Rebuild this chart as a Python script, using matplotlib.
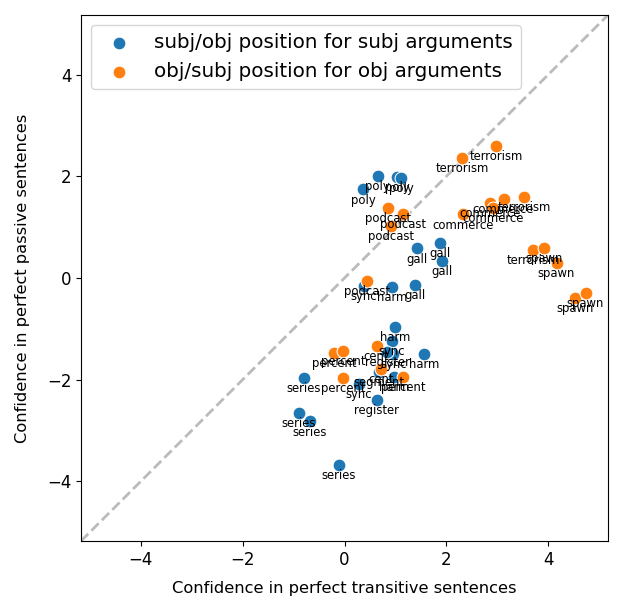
import matplotlib
matplotlib.use("Agg")
import matplotlib.pyplot as plt
import numpy as np

# subj arguments (blue)
subj_words = ["poly", "poly", "poly", "poly",
              "gall", "gall", "gall", "gall",
              "harm", "harm", "harm", "harm",
              "sync", "sync", "sync", "sync",
              "series", "series", "series", "series",
              "register", "register", "segment"]
subj_x = [0.65, 1.03, 1.11, 0.37,
          1.87, 1.42, 1.92, 1.39,
          0.94, 0.99, 1.56, 0.97,
          0.38, 0.93, 0.28, 0.96,
          -0.80, -0.90, -0.68, -0.11,
          0.63, 0.84, 0.67]
subj_y = [2.00, 1.98, 1.97, 1.74,
          0.69, 0.58, 0.33, -0.14,
          -0.18, -0.96, -1.50, -1.95,
          -0.16, -1.24, -2.08, -1.50,
          -1.97, -2.66, -2.82, -3.67,
          -2.40, -1.45, -1.85]

# obj arguments (orange)
obj_words = ["terrorism", "terrorism", "terrorism", "terrorism",
             "commerce", "commerce", "commerce", "commerce",
             "podcast", "podcast", "podcast", "podcast",
             "spawn", "spawn", "spawn", "spawn",
             "percent", "percent", "percent", "percent",
             "cent", "cent"]
obj_x = [2.98, 2.31, 3.53, 3.70,
         2.33, 2.85, 3.12, 2.92,
         0.85, 1.15, 0.92, 0.44,
         3.92, 4.16, 4.53, 4.73,
         -0.21, -0.03, -0.03, 1.15,
         0.63, 0.71]
obj_y = [2.59, 2.36, 1.59, 0.56,
         1.25, 1.48, 1.56, 1.38,
         1.37, 1.26, 1.02, -0.06,
         0.59, 0.30, -0.39, -0.29,
         -1.48, -1.43, -1.97, -1.95,
         -1.33, -1.79]

fig = plt.figure(figsize=(6.23, 6.13), dpi=100)
ax = fig.add_axes([81/623, 1 - 541/613, 527/623, 526/613])

lim = 5.17
ax.plot([-lim, lim], [-lim, lim], "--", color="#bbbbbb", lw=2, zorder=1)

ax.scatter(subj_x, subj_y, s=85, color="#1f77b4", edgecolor="white",
           linewidth=0.75, zorder=2, label="subj/obj position for subj arguments")
ax.scatter(obj_x, obj_y, s=85, color="#ff7f0e", edgecolor="white",
           linewidth=0.75, zorder=3, label="obj/subj position for obj arguments")

for w, x, y in zip(subj_words, subj_x, subj_y):
    ax.annotate(w, (x, y), xytext=(0, -3), textcoords="offset points",
                ha="center", va="top", fontsize=8.4, zorder=4)
for w, x, y in zip(obj_words, obj_x, obj_y):
    ax.annotate(w, (x, y), xytext=(0, -3), textcoords="offset points",
                ha="center", va="top", fontsize=8.4, zorder=4)

ax.set_xlim(-lim, lim)
ax.set_ylim(-lim, lim)
ax.set_xticks([-4, -2, 0, 2, 4])
ax.set_yticks([-4, -2, 0, 2, 4])
ax.tick_params(labelsize=12)
ax.set_xlabel("Confidence in perfect transitive sentences", fontsize=11.7, labelpad=9)
ax.set_ylabel("Confidence in perfect passive sentences", fontsize=11.7, labelpad=12)
ax.legend(loc="upper left", fontsize=14.3)

fig.savefig("out.png", dpi=100)
